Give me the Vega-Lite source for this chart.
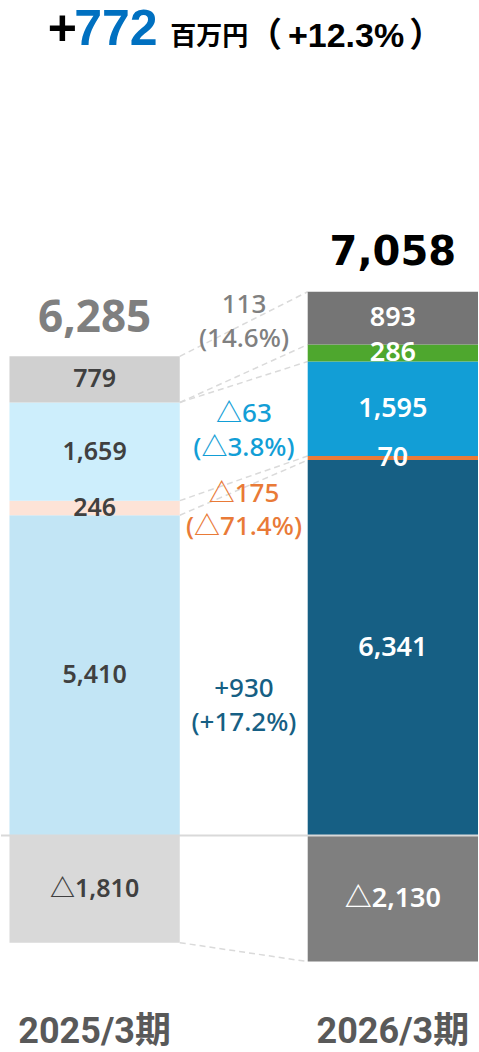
{
  "$schema": "https://vega.github.io/schema/vega-lite/v6.json",
  "width": 479,
  "height": 1052,
  "autosize": {"type": "fit", "contains": "padding"},
  "padding": 0,
  "background": "white",
  "config": {"view": {"stroke": null}},
  "datasets": {
    "segments": [
      {"period": "2025/3期", "key": "25-main", "order": 1, "value": 5410},
      {"period": "2025/3期", "key": "25-orange", "order": 2, "value": 246},
      {"period": "2025/3期", "key": "25-blue", "order": 3, "value": 1659},
      {"period": "2025/3期", "key": "25-other", "order": 5, "value": 779},
      {"period": "2025/3期", "key": "25-adj", "order": 6, "value": -1810},
      {"period": "2026/3期", "key": "26-main", "order": 1, "value": 6341},
      {"period": "2026/3期", "key": "26-orange", "order": 2, "value": 70},
      {"period": "2026/3期", "key": "26-blue", "order": 3, "value": 1595},
      {"period": "2026/3期", "key": "26-green", "order": 4, "value": 286},
      {"period": "2026/3期", "key": "26-other", "order": 5, "value": 893},
      {"period": "2026/3期", "key": "26-adj", "order": 6, "value": -2130}
    ],
    "totals": [
      {"period": "2025/3期", "total": 6285},
      {"period": "2026/3期", "total": 7058}
    ],
    "links": [
      {"left": 8094, "right": 9185},
      {"left": 7315, "right": 8292},
      {"left": 7315, "right": 8006},
      {"left": 5656, "right": 6411},
      {"left": 5410, "right": 6341},
      {"left": -1810, "right": -2130}
    ]
  },
  "encoding": {
    "x": {
      "field": "period",
      "type": "nominal",
      "axis": null,
      "scale": {"domain": ["2025/3期", "2026/3期"], "paddingInner": 0.429, "paddingOuter": 0.0142, "align": 1}
    }
  },
  "layer": [
    {
      "data": {"name": "links"},
      "mark": {"type": "rule", "stroke": "#dadada", "strokeWidth": 1.5, "strokeDash": [6, 4]},
      "encoding": {
        "x": {"datum": "2025/3期", "type": "nominal", "bandPosition": 1},
        "x2": {"datum": "2026/3期", "bandPosition": 0},
        "y": {"field": "left", "type": "quantitative", "axis": null, "scale": {"domain": [-3657, 14113], "nice": false, "zero": false}},
        "y2": {"field": "right"}
      }
    },
    {
      "data": {"name": "segments"},
      "transform": [
        {"stack": "value", "groupby": ["period"], "sort": [{"field": "order", "order": "ascending"}], "as": ["v0", "v1"], "offset": "zero"}
      ],
      "mark": {"type": "bar"},
      "encoding": {
        "y": {"field": "v0", "type": "quantitative"},
        "y2": {"field": "v1"},
        "color": {
          "field": "key",
          "type": "nominal",
          "legend": null,
          "scale": {
            "domain": ["25-main", "25-orange", "25-blue", "25-other", "25-adj", "26-main", "26-orange", "26-blue", "26-green", "26-other", "26-adj"],
            "range": ["#c2e5f5", "#fde3d7", "#cdeefc", "#d0d0d0", "#d9d9d9", "#165f84", "#e97a37", "#129ed6", "#4ea72e", "#757575", "#7f7f7f"]
          }
        }
      }
    },
    {
      "data": {"values": [{}]},
      "mark": {"type": "rule", "stroke": "#d9d9d9", "strokeWidth": 2},
      "encoding": {"x": null, "y": {"datum": 0, "type": "quantitative"}}
    },
    {
      "data": {"name": "segments"},
      "transform": [
        {"stack": "value", "groupby": ["period"], "sort": [{"field": "order", "order": "ascending"}], "as": ["v0", "v1"], "offset": "zero"},
        {"calculate": "(datum.v0 + datum.v1) / 2", "as": "mid"},
        {"calculate": "datum.value < 0 ? '△' + format(-datum.value, ',') : format(datum.value, ',')", "as": "label"}
      ],
      "mark": {"type": "text", "font": "Noto Sans, Noto Sans CJK JP", "fontWeight": 600, "baseline": "middle", "align": "center"},
      "encoding": {
        "y": {"field": "mid", "type": "quantitative"},
        "text": {"field": "label"},
        "size": {"condition": {"test": "datum.period === '2026/3期'", "value": 27}, "value": 25},
        "color": {"condition": {"test": "datum.period === '2026/3期'", "value": "#ffffff"}, "value": "#404040"}
      }
    },
    {
      "data": {"name": "segments"},
      "transform": [
        {"filter": "datum.period === '2025/3期'"},
        {"calculate": "max(datum.value, 0)", "as": "pos"},
        {"aggregate": [{"op": "sum", "field": "pos", "as": "top"}], "groupby": ["period"]},
        {"lookup": "period", "from": {"data": {"name": "totals"}, "key": "period", "fields": ["total"]}}
      ],
      "mark": {"type": "text", "font": "Noto Sans", "fontWeight": "bold", "fontSize": 44, "color": "#7f7f7f", "baseline": "alphabetic", "align": "center", "dy": -24},
      "encoding": {
        "y": {"field": "top", "type": "quantitative"},
        "text": {"field": "total", "format": ","}
      }
    },
    {
      "data": {"name": "segments"},
      "transform": [
        {"filter": "datum.period === '2026/3期'"},
        {"calculate": "max(datum.value, 0)", "as": "pos"},
        {"aggregate": [{"op": "sum", "field": "pos", "as": "top"}], "groupby": ["period"]},
        {"lookup": "period", "from": {"data": {"name": "totals"}, "key": "period", "fields": ["total"]}}
      ],
      "mark": {"type": "text", "font": "DejaVu Sans", "fontWeight": "bold", "fontSize": 40, "color": "#000000", "baseline": "alphabetic", "align": "center", "dy": -27},
      "encoding": {
        "y": {"field": "top", "type": "quantitative"},
        "text": {"field": "total", "format": ","}
      }
    },
    {
      "data": {"values": [{}]},
      "mark": {"type": "text", "font": "Noto Sans, Noto Sans CJK JP", "fontWeight": 500, "fontSize": 26, "baseline": "middle", "align": "center", "color": "#808080"},
      "encoding": {"x": {"datum": "2025/3期", "type": "nominal", "bandPosition": 1.377}, "y": {"datum": 8960, "type": "quantitative"}, "text": {"value": "113"}}
    },
    {
      "data": {"values": [{}]},
      "mark": {"type": "text", "font": "Noto Sans, Noto Sans CJK JP", "fontWeight": 500, "fontSize": 26, "baseline": "middle", "align": "center", "color": "#808080"},
      "encoding": {"x": {"datum": "2025/3期", "type": "nominal", "bandPosition": 1.377}, "y": {"datum": 8390, "type": "quantitative"}, "text": {"value": "(14.6%)"}}
    },
    {
      "data": {"values": [{}]},
      "mark": {"type": "text", "font": "Noto Sans, Noto Sans CJK JP", "fontWeight": 500, "fontSize": 26, "baseline": "middle", "align": "center", "color": "#129ed6"},
      "encoding": {"x": {"datum": "2025/3期", "type": "nominal", "bandPosition": 1.377}, "y": {"datum": 7120, "type": "quantitative"}, "text": {"value": "△63"}}
    },
    {
      "data": {"values": [{}]},
      "mark": {"type": "text", "font": "Noto Sans, Noto Sans CJK JP", "fontWeight": 500, "fontSize": 26, "baseline": "middle", "align": "center", "color": "#129ed6"},
      "encoding": {"x": {"datum": "2025/3期", "type": "nominal", "bandPosition": 1.377}, "y": {"datum": 6546, "type": "quantitative"}, "text": {"value": "(△3.8%)"}}
    },
    {
      "data": {"values": [{}]},
      "mark": {"type": "text", "font": "Noto Sans, Noto Sans CJK JP", "fontWeight": 500, "fontSize": 26, "baseline": "middle", "align": "center", "color": "#e97a37"},
      "encoding": {"x": {"datum": "2025/3期", "type": "nominal", "bandPosition": 1.377}, "y": {"datum": 5769, "type": "quantitative"}, "text": {"value": "△175"}}
    },
    {
      "data": {"values": [{}]},
      "mark": {"type": "text", "font": "Noto Sans, Noto Sans CJK JP", "fontWeight": 500, "fontSize": 26, "baseline": "middle", "align": "center", "color": "#e97a37"},
      "encoding": {"x": {"datum": "2025/3期", "type": "nominal", "bandPosition": 1.377}, "y": {"datum": 5211, "type": "quantitative"}, "text": {"value": "(△71.4%)"}}
    },
    {
      "data": {"values": [{}]},
      "mark": {"type": "text", "font": "Noto Sans, Noto Sans CJK JP", "fontWeight": 500, "fontSize": 26, "baseline": "middle", "align": "center", "color": "#165f84"},
      "encoding": {"x": {"datum": "2025/3期", "type": "nominal", "bandPosition": 1.377}, "y": {"datum": 2474, "type": "quantitative"}, "text": {"value": "+930"}}
    },
    {
      "data": {"values": [{}]},
      "mark": {"type": "text", "font": "Noto Sans, Noto Sans CJK JP", "fontWeight": 500, "fontSize": 26, "baseline": "middle", "align": "center", "color": "#165f84"},
      "encoding": {"x": {"datum": "2025/3期", "type": "nominal", "bandPosition": 1.377}, "y": {"datum": 1901, "type": "quantitative"}, "text": {"value": "(+17.2%)"}}
    },
    {
      "data": {"values": [{}]},
      "mark": {"type": "text", "font": "Liberation Sans", "fontWeight": "bold", "fontSize": 50, "baseline": "alphabetic", "align": "left", "color": "#000000"},
      "encoding": {"x": {"datum": "2025/3期", "type": "nominal", "bandPosition": 0.225}, "y": {"datum": 13353, "type": "quantitative"}, "text": {"value": "+"}}
    },
    {
      "data": {"values": [{}]},
      "mark": {"type": "text", "font": "Liberation Sans", "fontWeight": "bold", "fontSize": 50, "baseline": "alphabetic", "align": "left", "color": "#0070c0"},
      "encoding": {"x": {"datum": "2025/3期", "type": "nominal", "bandPosition": 0.38}, "y": {"datum": 13353, "type": "quantitative"}, "text": {"value": "772"}}
    },
    {
      "data": {"values": [{}]},
      "mark": {"type": "text", "font": "Noto Sans CJK JP", "fontWeight": "bold", "fontSize": 26, "baseline": "alphabetic", "align": "left", "color": "#000000"},
      "encoding": {"x": {"datum": "2025/3期", "type": "nominal", "bandPosition": 0.944}, "y": {"datum": 13353, "type": "quantitative"}, "text": {"value": "百万円"}}
    },
    {
      "data": {"values": [{}]},
      "mark": {"type": "text", "font": "Noto Sans CJK JP", "fontWeight": "bold", "fontSize": 34, "baseline": "alphabetic", "align": "left", "color": "#000000"},
      "encoding": {"x": {"datum": "2025/3期", "type": "nominal", "bandPosition": 1.4}, "y": {"datum": 13320, "type": "quantitative"}, "text": {"value": "（"}}
    },
    {
      "data": {"values": [{}]},
      "mark": {"type": "text", "font": "Liberation Sans", "fontWeight": "bold", "fontSize": 34, "baseline": "alphabetic", "align": "left", "color": "#000000"},
      "encoding": {"x": {"datum": "2025/3期", "type": "nominal", "bandPosition": 1.635}, "y": {"datum": 13320, "type": "quantitative"}, "text": {"value": "+12.3%"}}
    },
    {
      "data": {"values": [{}]},
      "mark": {"type": "text", "font": "Noto Sans CJK JP", "fontWeight": "bold", "fontSize": 34, "baseline": "alphabetic", "align": "left", "color": "#000000"},
      "encoding": {"x": {"datum": "2025/3期", "type": "nominal", "bandPosition": 2.348}, "y": {"datum": 13320, "type": "quantitative"}, "text": {"value": "）"}}
    },
    {
      "data": {"name": "segments"},
      "transform": [{"aggregate": [{"op": "count", "as": "n"}], "groupby": ["period"]}],
      "mark": {"type": "text", "font": "Roboto, Noto Sans CJK JP", "fontWeight": "bold", "fontSize": 36, "baseline": "alphabetic", "align": "center", "color": "#595959"},
      "encoding": {"y": {"datum": -3505, "type": "quantitative"}, "text": {"field": "period"}}
    }
  ]
}
